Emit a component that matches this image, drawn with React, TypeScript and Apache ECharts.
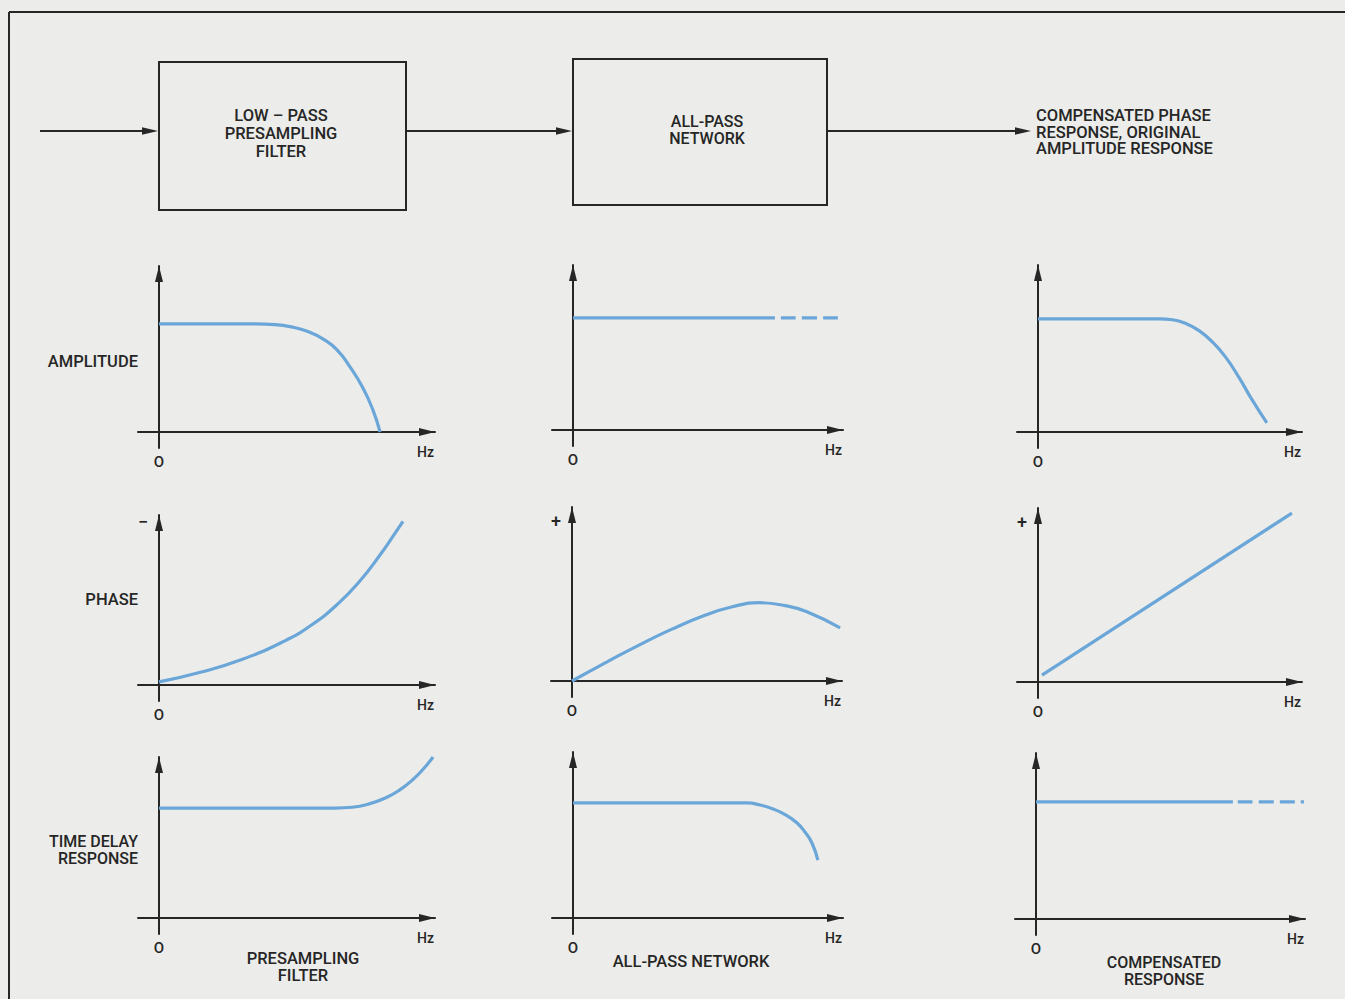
import React, { useEffect, useRef } from "react";
import * as echarts from "echarts";

// ---------- data (x: 0..10 = origin..arrow tip, y: 0..10 = origin..arrow tip) ----------
const presamplingAmplitude = [
  [0, 6.51], [3.5, 6.51], [4.2, 6.47], [4.8, 6.33], [5.4, 6.05], [5.95, 5.6],
  [6.45, 4.95], [6.92, 3.92], [7.39, 2.65], [7.75, 1.33], [8.01, 0],
];
const presamplingPhase = [
  [0, 0.18], [1.5, 0.75], [3.0, 1.5], [4.5, 2.55], [5.5, 3.5], [6.5, 4.8],
  [7.3, 6.16], [8.0, 7.63], [8.5, 8.8], [8.84, 9.62],
];
const presamplingDelay = [
  [0, 6.83], [6.4, 6.83], [7.0, 6.88], [7.6, 7.08], [8.2, 7.45], [8.7, 7.93],
  [9.2, 8.6], [9.6, 9.3], [9.93, 10.0],
];
const allPassAmplitudeSolid = [[0, 6.79], [7.48, 6.79]];
const allPassAmplitudeDashed = [[7.7, 6.79], [9.81, 6.79]];
const allPassPhase = [
  [0, 0], [1.3, 1.1], [2.5, 2.08], [3.7, 2.98], [4.9, 3.76], [5.9, 4.25],
  [6.9, 4.5], [7.9, 4.33], [8.7, 3.98], [9.93, 3.05],
];
const allPassDelay = [
  [0, 6.93], [6.44, 6.93], [6.93, 6.81], [7.41, 6.57], [7.89, 6.2], [8.3, 5.72],
  [8.59, 5.18], [8.85, 4.52], [9.07, 3.49],
];
const compensatedAmplitude = [
  [0, 6.77], [4.6, 6.77], [5.1, 6.72], [5.6, 6.5], [6.1, 6.07], [6.6, 5.4],
  [7.1, 4.5], [7.6, 3.3], [8.1, 1.95], [8.67, 0.54],
];
const compensatedPhase = [[0.15, 0.4], [9.62, 9.71]];
const compensatedDelaySolid = [[0, 7.05], [7.32, 7.05]];
const compensatedDelayDashed = [[7.5, 7.05], [9.96, 7.05]];

const rowLabels = ["AMPLITUDE", "PHASE", "TIME DELAY\nRESPONSE"];
const columnLabels = ["PRESAMPLING\nFILTER", "ALL-PASS NETWORK", "COMPENSATED\nRESPONSE"];
const blockLabels = ["LOW – PASS\nPRESAMPLING\nFILTER", "ALL-PASS\nNETWORK"];
const outputLabel = "COMPENSATED PHASE\nRESPONSE, ORIGINAL\nAMPLITUDE RESPONSE";
const originLabel = "O";
const freqLabel = "Hz";
const phaseSigns = ["−", "+", "+"];

// ---------- layout ----------
const FONT = "Roboto, 'DejaVu Sans', sans-serif";
const INK = "#262626";
const BLUE = "#6ba6d9";
const BG = "#ecedea";
const EXT_L = 21;
const EXT_B = 16;

type Panel = {
  ox: number; oy: number; tx: number; ty: number;
  series: { data: number[][]; dashed?: boolean }[];
};

const panels: Panel[] = [
  { ox: 159, oy: 432, tx: 435, ty: 266, series: [{ data: presamplingAmplitude }] },
  { ox: 573, oy: 430, tx: 843, ty: 265, series: [{ data: allPassAmplitudeSolid }, { data: allPassAmplitudeDashed, dashed: true }] },
  { ox: 1038, oy: 432, tx: 1302, ty: 265, series: [{ data: compensatedAmplitude }] },
  { ox: 159, oy: 685, tx: 435, ty: 515, series: [{ data: presamplingPhase }] },
  { ox: 572, oy: 681, tx: 842, ty: 507, series: [{ data: allPassPhase }] },
  { ox: 1038, oy: 682, tx: 1302, ty: 508, series: [{ data: compensatedPhase }] },
  { ox: 159, oy: 918, tx: 435, ty: 757, series: [{ data: presamplingDelay }] },
  { ox: 573, oy: 918, tx: 843, ty: 752, series: [{ data: allPassDelay }] },
  { ox: 1036, oy: 919, tx: 1305, ty: 753, series: [{ data: compensatedDelaySolid }, { data: compensatedDelayDashed, dashed: true }] },
];

function txt(x: number, y: number, text: string, size: number, align = "center", lineHeight?: number) {
  return {
    type: "text",
    x,
    y,
    silent: true,
    style: {
      text,
      fontSize: size,
      fontFamily: FONT,
      fontWeight: 500,
      fill: INK,
      align,
      verticalAlign: "middle",
      lineHeight: lineHeight || size + 2,
    },
  };
}

function line(x1: number, y1: number, x2: number, y2: number, w = 2) {
  return { type: "line", silent: true, shape: { x1, y1, x2, y2 }, style: { stroke: INK, lineWidth: w } };
}

function arrowHead(tipX: number, y: number) {
  return {
    type: "polygon",
    silent: true,
    shape: { points: [[tipX, y], [tipX - 16, y - 3.8], [tipX - 16, y + 3.8]] },
    style: { fill: INK },
  };
}

function buildOption() {
  const axisCommon = (p: Panel, i: number, dir: "x" | "y") => {
    const pxu = dir === "x" ? (p.tx - p.ox) / 10 : (p.oy - p.ty) / 10;
    const ext = dir === "x" ? EXT_L : EXT_B;
    return {
      type: "value",
      gridIndex: i,
      min: -ext / pxu,
      max: 10,
      axisLine: {
        show: true,
        onZero: true,
        symbol: ["none", "triangle"],
        symbolSize: [8, 16],
        symbolOffset: [0, -8],
        lineStyle: { color: INK, width: 2 },
      },
      axisTick: { show: false },
      axisLabel: { show: false },
      splitLine: { show: false },
    };
  };

  const grid = panels.map((p) => ({
    left: p.ox - EXT_L,
    top: p.ty,
    width: p.tx - (p.ox - EXT_L),
    height: p.oy + EXT_B - p.ty,
    containLabel: false,
    outerBoundsMode: "none",
  }));
  const xAxis = panels.map((p, i) => axisCommon(p, i, "x"));
  const yAxis = panels.map((p, i) => axisCommon(p, i, "y"));
  const series: any[] = [];
  panels.forEach((p, i) => {
    p.series.forEach((s) => {
      series.push({
        type: "line",
        xAxisIndex: i,
        yAxisIndex: i,
        data: s.data,
        showSymbol: false,
        symbol: "none",
        smooth: 0.5,
        silent: true,
        z: 3,
        lineStyle: { color: BLUE, width: 3.2, type: s.dashed ? [15, 6] : "solid", cap: "butt" },
      });
    });
  });

  const graphics: any[] = [];
  // frame
  graphics.push(line(9, 12, 1345, 12, 2));
  graphics.push(line(9, 12, 9, 999, 2));
  // block diagram
  graphics.push(line(40, 131, 146, 131));
  graphics.push(arrowHead(158, 131));
  graphics.push({ type: "rect", silent: true, shape: { x: 159, y: 62, width: 247, height: 148 }, style: { fill: "none", stroke: INK, lineWidth: 2 } });
  graphics.push(line(406, 131, 560, 131));
  graphics.push(arrowHead(572, 131));
  graphics.push({ type: "rect", silent: true, shape: { x: 573, y: 59, width: 254, height: 146 }, style: { fill: "none", stroke: INK, lineWidth: 2 } });
  graphics.push(line(827, 131, 1018, 131));
  graphics.push(arrowHead(1031, 131));
  graphics.push(txt(281, 133, blockLabels[0], 16.5, "center", 18));
  graphics.push(txt(707, 130, blockLabels[1], 16, "center", 16.5));
  graphics.push(txt(1036, 132, outputLabel, 16.5, "left", 16.5));

  // row labels
  graphics.push(txt(138, 361, rowLabels[0], 16.5, "right"));
  graphics.push(txt(138, 599, rowLabels[1], 16.5, "right"));
  graphics.push(txt(138, 850, rowLabels[2], 16, "right", 16.5));
  // column labels
  graphics.push(txt(303, 967, columnLabels[0], 16.5, "center", 17.5));
  graphics.push(txt(691, 961, columnLabels[1], 16.5, "center"));
  graphics.push(txt(1164, 971, columnLabels[2], 16, "center", 16.5));
  // sign labels on phase row
  graphics.push(txt(143, 521, phaseSigns[0], 18, "center"));
  graphics.push(txt(556, 520, phaseSigns[1], 18, "center"));
  graphics.push(txt(1022, 521, phaseSigns[2], 18, "center"));
  // origin and Hz labels
  panels.forEach((p) => {
    graphics.push(txt(p.ox, p.oy + 30, originLabel, 15, "center"));
    graphics.push(txt(p.tx - 1, p.oy + 20, freqLabel, 14, "right"));
  });

  return {
    animation: false,
    backgroundColor: BG,
    grid,
    xAxis,
    yAxis,
    series,
    graphic: { elements: graphics },
  };
}

export default function App() {
  const ref = useRef<HTMLDivElement>(null);
  useEffect(() => {
    if (!ref.current) return;
    const chart = echarts.init(ref.current, undefined, { renderer: "svg" });
    chart.setOption(buildOption() as any);
    return () => chart.dispose();
  }, []);
  return (
    <div
      ref={ref}
      style={{ position: "absolute", left: 0, top: 0, width: 1345, height: 999, background: BG }}
    />
  );
}
